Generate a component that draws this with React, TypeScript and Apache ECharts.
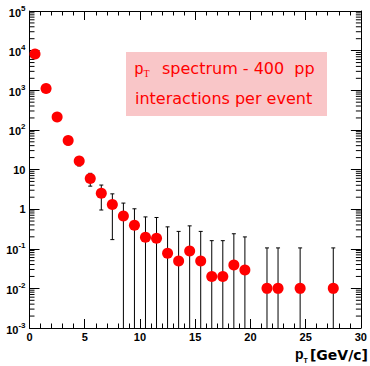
import React, { useEffect, useRef } from "react";
import * as echarts from "echarts";

// ---- data ----
const ptCenters = [0.5, 1.5, 2.5, 3.5, 4.5, 5.5, 6.5, 7.5, 8.5, 9.5, 10.5, 11.5, 12.5, 13.5, 14.5, 15.5, 16.5, 17.5, 18.5, 19.5, 21.5, 22.5, 24.5, 27.5];
const yields = [8200, 1100, 210, 54, 16.3, 5.9, 2.5, 1.3, 0.67, 0.39, 0.196, 0.185, 0.077, 0.049, 0.088, 0.049, 0.02, 0.02, 0.039, 0.029, 0.01, 0.01, 0.01, 0.01];
const yieldErrors = [300, 100, 35, 12, 4, 2.1, 1.55, 1.13, 0.75, 0.63, 0.44, 0.43, 0.28, 0.225, 0.29, 0.225, 0.14, 0.14, 0.2, 0.17, 0.095, 0.095, 0.095, 0.095];

const xMin = 0;
const xMax = 30;
const xInterval = 5;
const yMin = 0.001;
const yMax = 100000;
const minorDecades = [-3, -2, -1, 0, 1, 2, 3, 4];
const minorMultipliers = [2, 3, 4, 5, 6, 7, 8, 9];

const axisTitleMain = "[GeV/c]";
const boxLine1 = "spectrum - 400  pp";
const boxLine2 = "interactions per event";

const labelFont = "'Liberation Sans', Arial, sans-serif";
const boxFont = "'DejaVu Sans', sans-serif";

export default function App() {
  const ref = useRef<HTMLDivElement>(null);

  useEffect(() => {
    if (!ref.current) return;
    const chart = echarts.init(ref.current, null, { renderer: "svg" });

    const points = ptCenters.map((x, i) => [x, yields[i]]);
    const errData = ptCenters.map((x, i) => [x, yields[i], yieldErrors[i]]);
    const minorData: number[][] = [];
    minorDecades.forEach((d) =>
      minorMultipliers.forEach((m) => minorData.push([xMin, m * Math.pow(10, d)]))
    );

    const yLabel = (v: number) => {
      const e = Math.round(Math.log10(v));
      if (e === 0) return "1";
      if (e === 1) return "10";
      return "{b|10}{s|" + e + "}";
    };

    const xAxisCommon = {
      type: "value",
      min: xMin,
      max: xMax,
      interval: xInterval,
      splitLine: { show: false },
      axisLine: { show: true, onZero: false, lineStyle: { color: "#000", width: 1 } },
      axisTick: { show: true, inside: true, length: 9, lineStyle: { color: "#000", width: 1 } },
      minorTick: { show: true, splitNumber: 5, length: 4.5, lineStyle: { color: "#000", width: 1 } },
      minorSplitLine: { show: false },
    };

    const yAxisCommon = {
      type: "log",
      logBase: 10,
      min: yMin,
      max: yMax,
      splitNumber: 8,
      splitLine: { show: false },
      axisLine: { show: true, onZero: false, lineStyle: { color: "#000", width: 1 } },
      axisTick: { show: true, inside: true, length: 10, lineStyle: { color: "#000", width: 1 } },
      minorTick: { show: false },
    };

    const option: any = {
      animation: false,
      backgroundColor: "#fff",
      grid: { left: 29.5, right: 9, top: 11, bottom: 38, containLabel: false },
      xAxis: [
        {
          ...xAxisCommon,
          position: "bottom",
          axisLabel: {
            show: true,
            color: "#000",
            fontFamily: labelFont,
            fontWeight: "bold",
            fontSize: 11,
            margin: 3,
          },
        },
        {
          ...xAxisCommon,
          position: "top",
          axisLabel: { show: false },
        },
      ],
      yAxis: [
        {
          ...yAxisCommon,
          position: "left",
          axisLabel: {
            show: true,
            margin: 4,
            color: "#000",
            fontFamily: labelFont,
            fontWeight: "bold",
            fontSize: 11,
            formatter: yLabel,
            rich: {
              b: { fontFamily: labelFont, fontWeight: "bold", fontSize: 11, lineHeight: 14, verticalAlign: "bottom", color: "#000" },
              s: { fontFamily: labelFont, fontWeight: "bold", fontSize: 8, lineHeight: 8, verticalAlign: "top", color: "#000" },
            },
          },
        },
        {
          ...yAxisCommon,
          position: "right",
          axisLabel: { show: false },
        },
      ],
      series: [
        {
          type: "custom",
          name: "minorTicks",
          xAxisIndex: 0,
          yAxisIndex: 0,
          silent: true,
          clip: false,
          data: minorData,
          renderItem: (params: any, api: any) => {
            const v = api.value(1);
            const pl = api.coord([xMin, v]);
            const pr = api.coord([xMax, v]);
            const st = { stroke: "#000", lineWidth: 1 };
            return {
              type: "group",
              children: [
                { type: "line", shape: { x1: pl[0], y1: pl[1], x2: pl[0] + 5, y2: pl[1] }, style: st },
                { type: "line", shape: { x1: pr[0] - 5, y1: pr[1], x2: pr[0], y2: pr[1] }, style: st },
              ],
            };
          },
          z: 1,
        },
        {
          type: "custom",
          name: "errors",
          xAxisIndex: 0,
          yAxisIndex: 0,
          silent: true,
          data: errData,
          renderItem: (params: any, api: any) => {
            const x = api.value(0);
            const y = api.value(1);
            const e = api.value(2);
            const hi = y + e;
            const lo = y - e;
            const lowClamped = lo > yMin ? lo : yMin;
            const pTop = api.coord([x, hi]);
            const pBot = api.coord([x, lowClamped]);
            const st = { stroke: "#000", lineWidth: 1 };
            const children: any[] = [
              { type: "line", shape: { x1: pTop[0], y1: pTop[1], x2: pBot[0], y2: pBot[1] }, style: st },
              { type: "line", shape: { x1: pTop[0] - 2, y1: pTop[1], x2: pTop[0] + 2, y2: pTop[1] }, style: st },
            ];
            if (lo > yMin) {
              children.push({ type: "line", shape: { x1: pBot[0] - 2, y1: pBot[1], x2: pBot[0] + 2, y2: pBot[1] }, style: st });
            }
            return { type: "group", children };
          },
          z: 2,
        },
        {
          type: "scatter",
          name: "pT",
          xAxisIndex: 0,
          yAxisIndex: 0,
          data: points,
          symbol: "circle",
          symbolSize: 11,
          itemStyle: { color: "#ff0000", opacity: 1 },
          z: 3,
        },
      ],
      graphic: [
        {
          type: "rect",
          shape: { x: 126, y: 52, width: 201, height: 64 },
          style: { fill: "#f9c6c8" },
          z: 10,
        },
        {
          type: "text",
          x: 134.5,
          y: 68,
          style: { text: "p", font: "16px " + labelFont, fill: "#ff0000", verticalAlign: "middle", align: "left" },
          z: 11,
        },
        {
          type: "text",
          x: 143.5,
          y: 73,
          style: { text: "T", font: "10px 'Liberation Serif', serif", fill: "#ff0000", verticalAlign: "middle", align: "left" },
          z: 11,
        },
        {
          type: "text",
          x: 162,
          y: 68,
          style: { text: boxLine1, font: "16px " + boxFont, fill: "#ff0000", verticalAlign: "middle", align: "left" },
          z: 11,
        },
        {
          type: "text",
          x: 135,
          y: 98,
          style: { text: boxLine2, font: "16px " + boxFont, fill: "#ff0000", verticalAlign: "middle", align: "left" },
          z: 11,
        },
        {
          type: "text",
          x: 295,
          y: 354,
          style: { text: "p", font: "bold 14px " + labelFont, fill: "#000", verticalAlign: "middle", align: "left" },
          z: 11,
        },
        {
          type: "text",
          x: 303.5,
          y: 360,
          style: { text: "T", font: "bold 7px " + labelFont, fill: "#000", verticalAlign: "middle", align: "left" },
          z: 11,
        },
        {
          type: "text",
          x: 368,
          y: 355,
          style: { text: axisTitleMain, font: "bold 14px " + boxFont, fill: "#000", verticalAlign: "middle", align: "right" },
          z: 11,
        },
      ],
    };

    chart.setOption(option);
    return () => chart.dispose();
  }, []);

  return (
    <div
      ref={ref}
      style={{ position: "absolute", left: 0, top: 0, width: 370, height: 366, background: "#fff" }}
    />
  );
}
